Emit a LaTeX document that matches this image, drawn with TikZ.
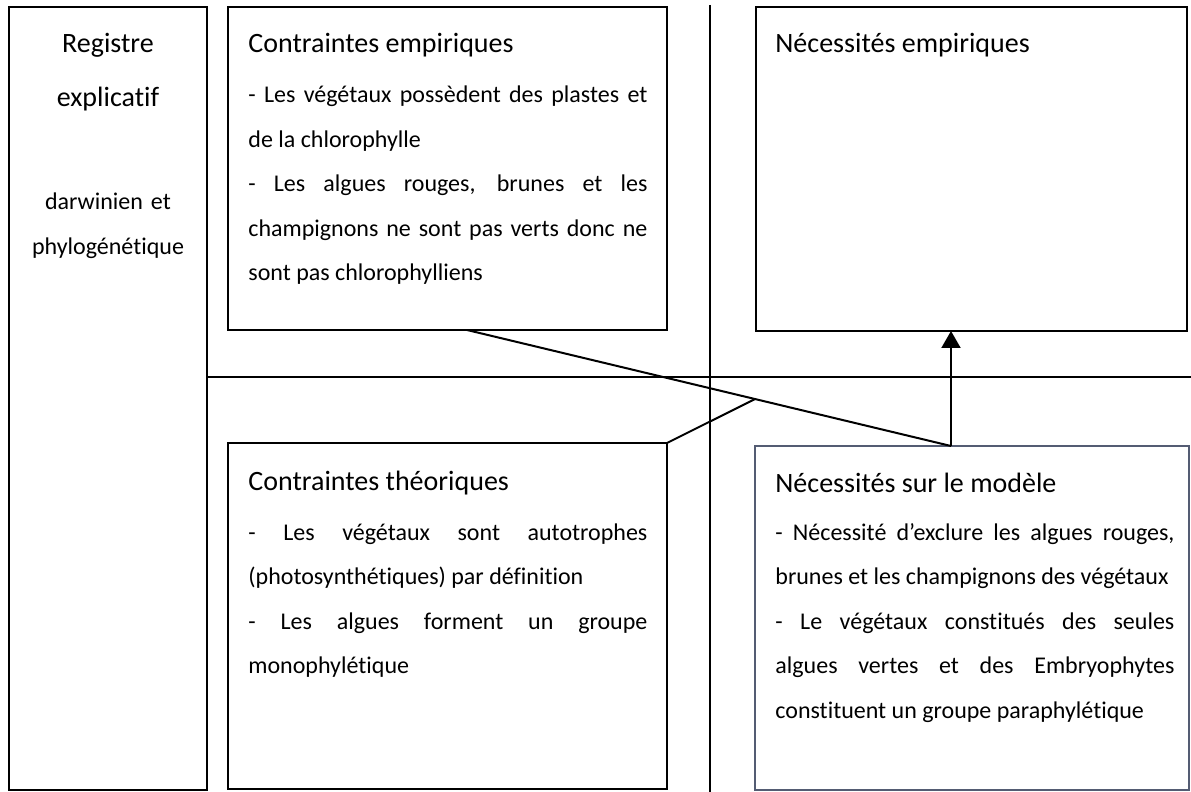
\documentclass[tikz,border=0pt]{standalone}
\usepackage{fontspec}
\setmainfont{Carlito}[Ligatures=NoCommon]
\usetikzlibrary{arrows.meta, calc}
\definecolor{cadregris}{rgb}{0.33,0.36,0.45}
\hyphenpenalty=10000
\tolerance=9999
\hbadness=10000
\tikzset{
  cadre/.style={draw, line width=1pt, inner sep=0pt, outer sep=0pt, anchor=north west},
  titre/.style={anchor=base west, inner sep=0pt, font=\fontsize{14pt}{27pt}\selectfont},
  texte/.style={anchor=base west, inner sep=0pt, text width=199.5pt, align=justify,
    font=\fontsize{12pt}{22.25pt}\selectfont},
  trait/.style={line width=1pt},
  fleche/.style={line width=1pt, -{Triangle[width=9.5pt,length=8.5pt]}}
}

\begin{document}
\begin{tikzpicture}[x=0.5pt, y=-0.5pt]
\useasboundingbox (0,0) rectangle (1191,792);

% les cadres
\node[cadre, minimum width=99pt, minimum height=391.5pt] (reg) at (9,7) {};
\node[cadre, minimum width=219.5pt, minimum height=161.5pt] (ce) at (228,7) {};
\node[cadre, minimum width=215.5pt, minimum height=162pt] (ne) at (756,7) {};
\node[cadre, minimum width=219.5pt, minimum height=173pt] (ct) at (228,443) {};
\node[cadre, draw=cadregris, line width=0.8pt, minimum width=217pt, minimum height=172pt] (nm) at (755,446) {};

% separations
\draw[trait] (710,5) -- (710,792);
\draw[trait] (reg.east |- 0,377) -- (1191,377);

% registre
\node[anchor=base, inner sep=0pt, text width=99pt, align=center,
font=\fontsize{14pt}{27pt}\selectfont] (reg-titre) at (108,53) {Registre\\explicatif};
\node[anchor=base, inner sep=0pt, text width=99pt, align=center,
font=\fontsize{12pt}{22.5pt}\selectfont] (reg-texte) at (108,210) {darwinien et\\phylogénétique};

% textes
\node[titre] (ce-titre) at ([shift={(20,46)}]ce.north west) {Contraintes empiriques};
\node[texte] (ce-texte) at ([shift={(20,96)}]ce.north west) {- Les végétaux possèdent des plastes et\linebreak de la chlorophylle\\- Les algues rouges, brunes et les\linebreak champignons ne sont pas verts donc ne\linebreak sont pas chlorophylliens};
\node[titre] (ne-titre) at ([shift={(19,46)}]ne.north west) {Nécessités empiriques};
\node[titre] (ct-titre) at ([shift={(20,47)}]ct.north west) {Contraintes théoriques};
\node[texte] (ct-texte) at ([shift={(20,97)}]ct.north west) {- Les végétaux sont autotrophes\linebreak (photosynthétiques) par définition\\- Les algues forment un groupe\linebreak monophylétique};
\node[titre] (nm-titre) at ([shift={(20,46)}]nm.north west) {Nécessités sur le modèle};
\node[texte] (nm-texte) at ([shift={(20,94)}]nm.north west) {- Nécessité d’exclure les algues rouges,\linebreak brunes et les champignons des végétaux\\- Le végétaux constitués des seules\linebreak algues vertes et des Embryophytes\linebreak constituent un groupe paraphylétique};

% liaisons
\coordinate (ce-bas) at ([shift={(19.5,0)}]ce.south);
\coordinate (nm-haut) at ([shift={(196,0)}]nm.north west);
\draw[trait] (ce-bas) -- (nm-haut);
\draw[trait] (ct.north east) -- ($(ce-bas)!0.595!(nm-haut)$);
\draw[fleche] (nm-haut) -- (nm-haut |- ne.south);
\end{tikzpicture}
\end{document}
